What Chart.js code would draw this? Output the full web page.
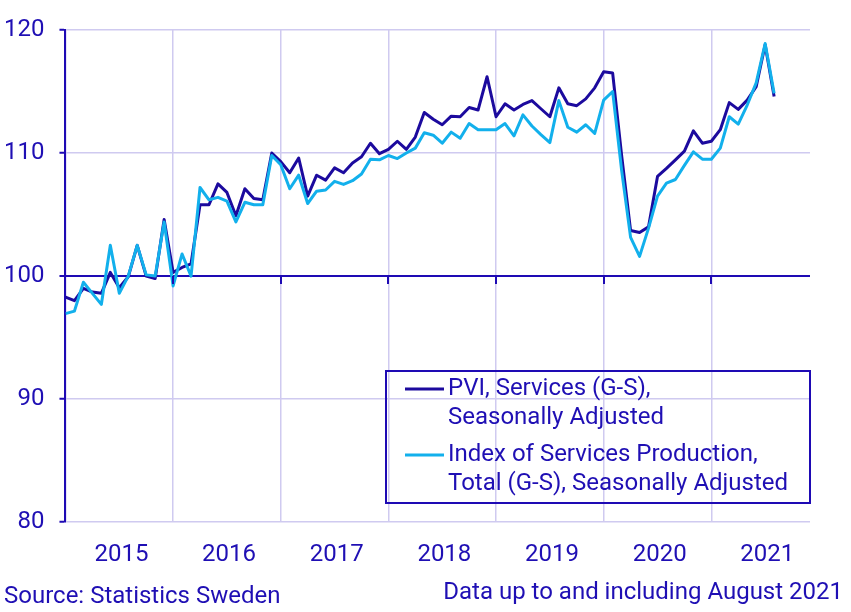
<!DOCTYPE html>
<html lang="en">
<head>
    <meta charset="UTF-8">
    <title>Services production index</title>
    <script src="https://cdn.jsdelivr.net/npm/chart.js"></script>
    <style>
        body { margin: 0; background: #fff; }
        #wrap { width: 851px; height: 612px; position: relative; }
    </style>
</head>
<body>
    <div id="wrap"><canvas id="servicesChart"></canvas></div>

    <script>
        // Monthly index, Jan 2015 .. Aug 2021
        const pviServices = [
            98.3, 98.0, 99.0, 98.7, 98.6, 100.3, 99.05, 99.95, 102.5, 100.0, 99.8, 104.6,
            100.3, 100.7, 101.0, 105.8, 105.8, 107.5, 106.8, 104.9, 107.1, 106.3, 106.2, 110.0,
            109.3, 108.4, 109.6, 106.5, 108.2, 107.8, 108.8, 108.4, 109.2, 109.7, 110.8, 109.95,
            110.3, 110.96, 110.3, 111.3, 113.3, 112.75, 112.3, 113.0, 112.95, 113.7, 113.5, 116.2,
            112.95, 114.0, 113.5, 113.95, 114.26, 113.6, 112.95, 115.3, 114.0, 113.85, 114.4, 115.3,
            116.6, 116.5, 109.8, 103.7, 103.55, 104.0, 108.1, 108.75, 109.45, 110.15, 111.8, 110.8,
            110.96, 111.9, 114.1, 113.55, 114.3, 115.4, 118.8, 114.6
        ];
        const ispTotal = [
            96.95, 97.15, 99.5, 98.6, 97.7, 102.5, 98.6, 100.0, 102.5, 100.1, 100.0, 104.4,
            99.2, 101.8, 100.0, 107.2, 106.2, 106.4, 106.1, 104.4, 106.0, 105.8, 105.8, 109.8,
            109.05, 107.1, 108.2, 105.9, 106.9, 107.0, 107.7, 107.45, 107.75, 108.3, 109.5, 109.45,
            109.8, 109.55, 110.0, 110.4, 111.65, 111.45, 110.8, 111.7, 111.2, 112.4, 111.9, 111.9,
            111.9, 112.4, 111.4, 113.1, 112.2, 111.5, 110.85, 114.26, 112.1, 111.7, 112.3, 111.6,
            114.3, 115.0, 108.6, 103.15, 101.6, 103.9, 106.5, 107.55, 107.85, 109.0, 110.1, 109.5,
            109.5, 110.4, 112.95, 112.35, 113.9, 115.7, 118.9, 114.85
        ];
        const years = ['2015', '2016', '2017', '2018', '2019', '2020', '2021'];
        const yearStarts = [0, 12, 24, 36, 48, 60, 72];
        const yTicks = [80, 90, 100, 110, 120];
        const baseValue = 100;

        const legendLabels = [
            ['PVI, Services (G-S),', 'Seasonally Adjusted'],
            ['Index of Services Production,', 'Total (G-S), Seasonally Adjusted']
        ];
        const sourceText = 'Source: Statistics Sweden';
        const noteText = 'Data up to and including August 2021';

        const textColor = '#1f0fb4';
        const axisColor = '#1e0ab4';
        const gridColor = '#cfcaf0';
        const darkLine = '#1c0a9e';
        const lightLine = '#12b0ec';
        const font = 'Roboto';

        const toPoints = arr => arr.map((v, i) => ({ x: i, y: v }));

        // tick marks on the 100 line, legend box and footer notes
        const extrasPlugin = {
            id: 'extras',
            afterDraw(chart) {
                const ctx = chart.ctx;
                const xs = chart.scales.x, ys = chart.scales.y;
                ctx.save();
                ctx.strokeStyle = axisColor;
                ctx.lineWidth = 2;
                const yb = ys.getPixelForValue(baseValue);
                yearStarts.slice(1).forEach(v => {
                    const px = Math.round(xs.getPixelForValue(v));
                    ctx.beginPath();
                    ctx.moveTo(px, yb);
                    ctx.lineTo(px, yb + 8);
                    ctx.stroke();
                });

                ctx.strokeRect(386, 371, 424, 132);

                ctx.font = '24px ' + font;
                ctx.fillStyle = textColor;
                ctx.textBaseline = 'middle';
                const rows = [389, 455];
                chart.data.datasets.forEach((ds, i) => {
                    const y = rows[i];
                    ctx.strokeStyle = ds.borderColor;
                    ctx.lineWidth = 3;
                    ctx.beginPath();
                    ctx.moveTo(405, y);
                    ctx.lineTo(444, y);
                    ctx.stroke();
                    legendLabels[i].forEach((t, j) => ctx.fillText(t, 448, y + j * 28.5));
                });

                ctx.textAlign = 'left';
                ctx.fillText(sourceText, 4, 597);
                ctx.textAlign = 'right';
                ctx.fillText(noteText, 843, 593);
                ctx.restore();
            }
        };

        document.addEventListener('DOMContentLoaded', function() {
            const ctx = document.getElementById('servicesChart').getContext('2d');
            new Chart(ctx, {
                type: 'line',
                data: {
                    datasets: [{
                        label: legendLabels[0].join(' '),
                        data: toPoints(pviServices),
                        borderColor: darkLine,
                        borderWidth: 3,
                        order: 2
                    }, {
                        label: legendLabels[1].join(' '),
                        data: toPoints(ispTotal),
                        borderColor: lightLine,
                        borderWidth: 3,
                        order: 1
                    }]
                },
                options: {
                    responsive: true,
                    maintainAspectRatio: false,
                    animation: false,
                    layout: { padding: { left: -11, right: 41, top: 30, bottom: 25 } },
                    elements: {
                        point: { radius: 0 },
                        line: { tension: 0, borderJoinStyle: 'round' }
                    },
                    plugins: {
                        legend: { display: false },
                        tooltip: { enabled: false }
                    },
                    scales: {
                        x: {
                            type: 'linear',
                            min: 0,
                            max: 83,
                            afterBuildTicks: axis => { axis.ticks = yearStarts.map(v => ({ value: v })); },
                            ticks: {
                                callback: (v) => years[yearStarts.indexOf(v)],
                                align: 'start',
                                labelOffset: 29,
                                padding: 18,
                                color: textColor,
                                font: { family: font, size: 24 },
                                maxRotation: 0
                            },
                            grid: { color: gridColor, lineWidth: 1.5, drawTicks: false },
                            border: { display: false }
                        },
                        y: {
                            min: 80,
                            max: 120,
                            afterBuildTicks: axis => { axis.ticks = yTicks.map(v => ({ value: v })); },
                            ticks: {
                                color: textColor,
                                font: { family: font, size: 24 },
                                padding: 15
                            },
                            grid: {
                                color: c => c.tick && c.tick.value === baseValue ? axisColor : gridColor,
                                lineWidth: c => c.tick && c.tick.value === baseValue ? 2 : 1.5,
                                tickColor: axisColor,
                                tickLength: 6,
                                tickWidth: 2
                            },
                            border: { color: axisColor, width: 2 }
                        }
                    }
                },
                plugins: [extrasPlugin]
            });
        });
    </script>
</body>
</html>
